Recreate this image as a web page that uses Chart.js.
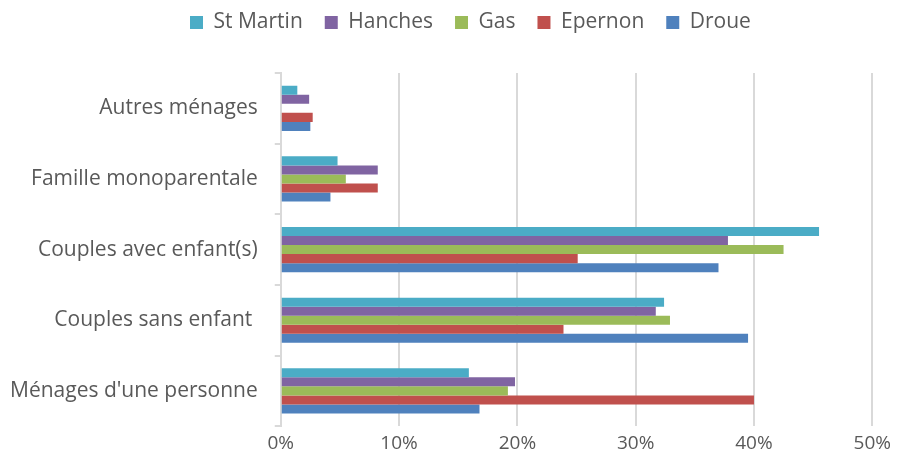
<!DOCTYPE html>
<html>
<head>
<meta charset="utf-8">
<script src="https://cdn.jsdelivr.net/npm/chart.js@4"></script>
<style>
  body { margin: 0; background: #fff; }
  #wrap { width: 897px; height: 463px; }
</style>
</head>
<body>
<div id="wrap"><canvas id="myChart" width="897" height="463"></canvas></div>
<script>
  const categories = ['Autres ménages', 'Famille monoparentale', 'Couples avec enfant(s)', 'Couples sans enfant ', "Ménages d'une personne"];
  const stMartin = [1.4, 4.8, 45.5, 32.4, 15.9];
  const hanches = [2.4, 8.2, 37.8, 31.7, 19.8];
  const gas = [0, 5.5, 42.5, 32.9, 19.2];
  const epernon = [2.7, 8.2, 25.1, 23.9, 40.0];
  const droue = [2.5, 4.2, 37.0, 39.5, 16.8];

  const xTicks = [0, 10, 20, 30, 40, 50];

  Chart.defaults.font.family = "'Open Sans', sans-serif";
  Chart.defaults.font.size = 21;
  Chart.defaults.color = '#595959';

  // legend sits a bit right of centre and leaves a gap above the plot, as in Excel
  const legendPlace = {
    id: 'legendPlace',
    beforeUpdate(chart) {
      const lg = chart.legend;
      if (lg && !lg._patched) {
        const fit = lg.fit;
        lg.fit = function () { fit.call(this); this.height = 73; };
        lg._patched = true;
      }
    },
    afterLayout(chart) {
      const lg = chart.legend;
      const pad = lg.options.labels.padding;
      const x0 = (lg.left + pad + lg.right - lg.lineWidths[0]) / 2;
      const dx = 190 - x0;
      lg.left += dx; lg.right += dx;
      lg.top -= 10; lg.bottom -= 10;
    }
  };

  const ctx = document.getElementById('myChart').getContext('2d');
  new Chart(ctx, {
    type: 'bar',
    data: {
      labels: categories,
      datasets: [
        { label: 'St Martin', data: stMartin, backgroundColor: '#4bacc6' },
        { label: 'Hanches', data: hanches, backgroundColor: '#8064a2' },
        { label: 'Gas', data: gas, backgroundColor: '#9bbb59' },
        { label: 'Epernon', data: epernon, backgroundColor: '#c0504d' },
        { label: 'Droue', data: droue, backgroundColor: '#4f81bd' }
      ]
    },
    plugins: [legendPlace],
    options: {
      indexAxis: 'y',
      responsive: false,
      animation: false,
      barPercentage: 1,
      categoryPercentage: 0.64,
      layout: {
        padding: { top: 0, right: 23, bottom: 2, left: -7 }
      },
      plugins: {
        legend: {
          position: 'top',
          labels: {
            boxWidth: 13,
            boxHeight: 13,
            padding: 22,
            font: { size: 21 }
          }
        },
        tooltip: { enabled: false }
      },
      scales: {
        x: {
          min: 0,
          max: 50,
          afterBuildTicks: axis => { axis.ticks = xTicks.map(v => ({ value: v })); },
          ticks: {
            callback: v => v + '%',
            padding: 6,
            font: { size: 19 }
          },
          grid: {
            color: '#d9d9d9',
            lineWidth: 2,
            drawTicks: false
          },
          border: { display: false }
        },
        y: {
          grid: {
            offset: true,
            drawOnChartArea: false,
            color: '#d9d9d9',
            lineWidth: 2,
            tickLength: 6
          },
          border: { color: '#d9d9d9', width: 2 },
          ticks: { padding: 17 }
        }
      }
    }
  });
</script>
</body>
</html>
